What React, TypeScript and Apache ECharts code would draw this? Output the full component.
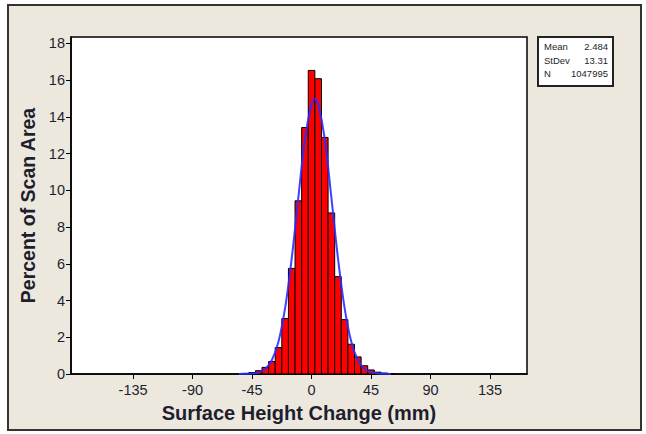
import React, { useEffect, useRef } from "react";
import * as echarts from "echarts";

// Histogram bins (midpoints, mm) and heights (% of scan area)
const binMidpoints = [-50, -45, -40, -35, -30, -25, -20, -15, -10, -5, 0, 5, 10, 15, 20, 25, 30, 35, 40, 45, 50, 55, 60];
const percentValues = [0.03, 0.08, 0.18, 0.36, 0.68, 1.44, 3.02, 5.75, 9.43, 13.42, 16.53, 16.08, 12.88, 8.77, 5.3, 2.96, 1.62, 0.93, 0.45, 0.22, 0.1, 0.05, 0.02];
const BIN_WIDTH = 5;

// Fitted normal curve
const curveX = [-55, -50, -45, -40, -35, -30, -25, -20, -15, -10, -5, 0, 2.5, 5, 10, 15, 20, 25, 30, 35, 40, 45, 50, 55, 60];
const curveY = [0, 0.01, 0.03, 0.09, 0.28, 0.76, 1.77, 3.6, 6.3, 9.6, 12.8, 14.7, 15.0, 14.7, 12.8, 9.6, 6.3, 3.6, 1.77, 0.76, 0.28, 0.09, 0.03, 0.01, 0];

// Axis tick labels
const xTicks = [-135, -90, -45, 0, 45, 90, 135];
const yTicks = [0, 2, 4, 6, 8, 10, 12, 14, 16, 18];

// Summary statistics box
const statLabels = ["Mean", "StDev", "N"];
const statValues = ["2.484", "13.31", "1047995"];

const FONT = "'Liberation Sans', Arial, Helvetica, sans-serif";
const TEXT_COLOR = "#1e1e2e";

export default function App() {
  const ref = useRef<HTMLDivElement>(null);

  useEffect(() => {
    if (!ref.current) return;
    const chart = echarts.init(ref.current, null, { renderer: "svg", width: 646, height: 434 });

    const barData = binMidpoints.map((m, i) => [m, percentValues[i]]);
    const curveData = curveX.map((x, i) => [x, curveY[i]]);

    const statElements: any[] = [
      {
        type: "rect",
        shape: { x: 0, y: 0, width: 75, height: 49 },
        style: { fill: "#ffffff", stroke: "#222", lineWidth: 2 },
      },
    ];
    statLabels.forEach((lab, i) => {
      statElements.push({
        type: "text",
        x: 6,
        y: 9.5 + i * 13.5,
        style: { text: lab, font: `9.5px ${FONT}`, fill: TEXT_COLOR, textAlign: "left", textVerticalAlign: "middle" },
      });
      statElements.push({
        type: "text",
        x: 70,
        y: 9.5 + i * 13.5,
        style: { text: statValues[i], font: `9.5px ${FONT}`, fill: TEXT_COLOR, textAlign: "right", textVerticalAlign: "middle" },
      });
    });

    chart.setOption({
      animation: false,
      backgroundColor: "#ffffff",
      grid: {
        left: 71,
        top: 37,
        width: 456,
        height: 337,
        show: true,
        backgroundColor: "#ffffff",
        borderColor: "#000",
        borderWidth: 1.5,
        containLabel: false,
      },
      graphic: [
        {
          type: "rect",
          z: -10,
          silent: true,
          shape: { x: 8, y: 5, width: 633, height: 425 },
          style: { fill: "#ece8de", stroke: "#333", lineWidth: 2 },
        },
        {
          type: "group",
          left: 537,
          top: 36,
          z: 100,
          children: statElements,
        },
      ],
      xAxis: {
        type: "value",
        min: -182,
        max: 163,
        name: "Surface Height Change (mm)",
        nameLocation: "middle",
        nameGap: 29,
        nameTextStyle: { fontFamily: FONT, fontSize: 20, fontWeight: "bold", color: TEXT_COLOR },
        axisLine: { show: true, onZero: false, lineStyle: { color: "#000", width: 1.5 } },
        axisTick: { show: true, length: 5, customValues: xTicks, lineStyle: { color: "#000" } },
        axisLabel: { customValues: xTicks, margin: 8, fontFamily: FONT, fontSize: 14.5, color: TEXT_COLOR },
        splitLine: { show: false },
      },
      yAxis: {
        type: "value",
        min: 0,
        max: 18.35,
        name: "Percent of Scan Area",
        nameLocation: "middle",
        nameRotate: 90,
        nameGap: 33,
        nameTextStyle: { fontFamily: FONT, fontSize: 19.5, fontWeight: "bold", color: TEXT_COLOR },
        axisLine: { show: true, onZero: false, lineStyle: { color: "#000", width: 1.5 } },
        axisTick: { show: true, length: 5, customValues: yTicks, lineStyle: { color: "#000" } },
        axisLabel: { customValues: yTicks, margin: 6, fontFamily: FONT, fontSize: 14.5, color: TEXT_COLOR },
        splitLine: { show: false },
      },
      series: [
        {
          type: "custom",
          data: barData,
          z: 2,
          renderItem: (params: any, api: any) => {
            const mid = api.value(0);
            const h = api.value(1);
            const tl = api.coord([mid - BIN_WIDTH / 2, h]);
            const br = api.coord([mid + BIN_WIDTH / 2, 0]);
            return {
              type: "rect",
              shape: { x: tl[0], y: tl[1], width: br[0] - tl[0], height: br[1] - tl[1] },
              style: { fill: "#ff0000", stroke: "#000", lineWidth: 1 },
            };
          },
        },
        {
          type: "line",
          data: curveData,
          z: 3,
          smooth: 0.3,
          showSymbol: false,
          symbol: "none",
          lineStyle: { color: "#2b2bff", width: 2, opacity: 0.9 },
        },
      ],
    });

    return () => chart.dispose();
  }, []);

  return (
    <div
      ref={ref}
      style={{ position: "absolute", left: 0, top: 0, width: 646, height: 434 }}
    />
  );
}
